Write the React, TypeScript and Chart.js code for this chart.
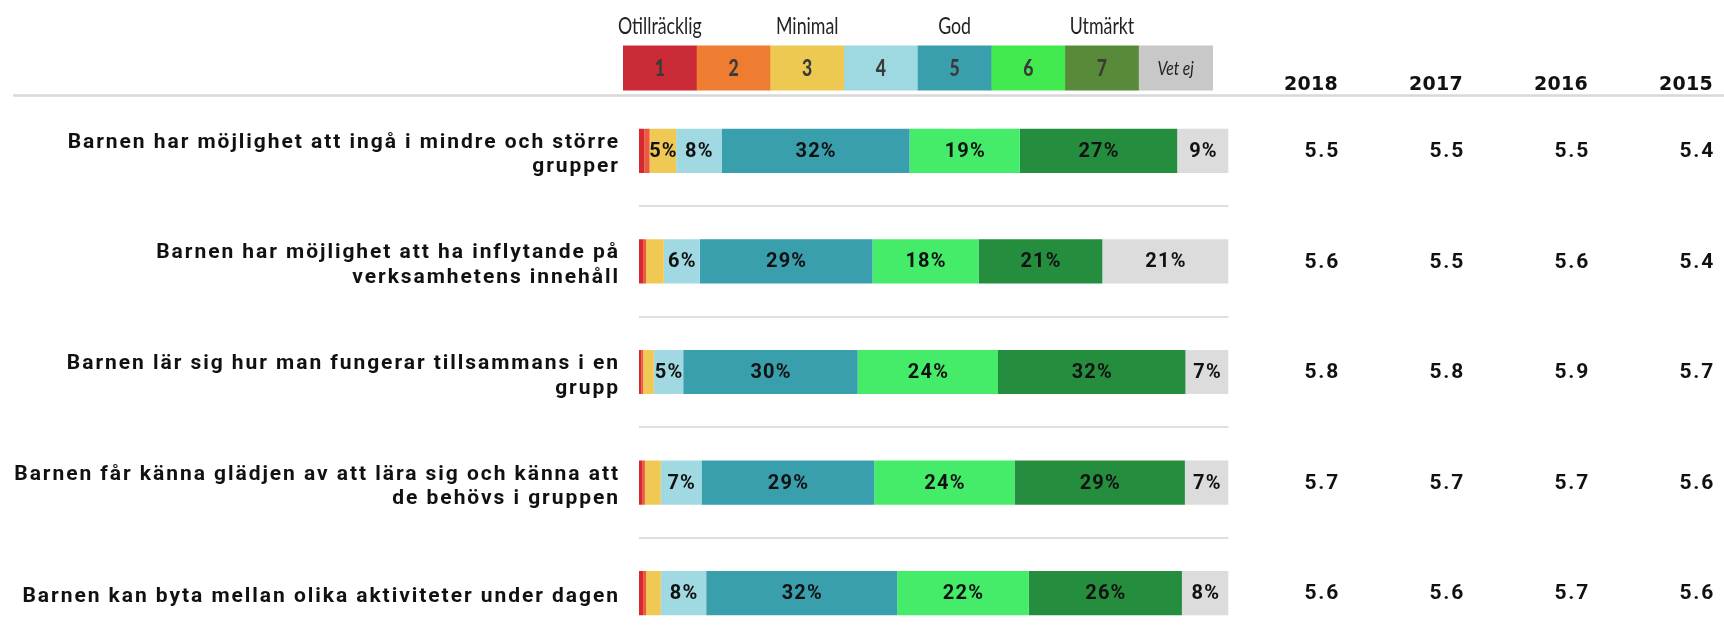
import { useEffect, useRef } from 'react';
import { Chart, registerables } from 'chart.js';

Chart.register(...registerables);

// ---------- DATA ----------
const categories: (string | string[])[] = [
  ['Barnen har möjlighet att ingå i mindre och större', 'grupper'],
  ['Barnen har möjlighet att ha inflytande på', 'verksamhetens innehåll'],
  ['Barnen lär sig hur man fungerar tillsammans i en', 'grupp'],
  ['Barnen får känna glädjen av att lära sig och känna att', 'de behövs i gruppen'],
  'Barnen kan byta mellan olika aktiviteter under dagen',
];

const levelLabels = ['1', '2', '3', '4', '5', '6', '7', 'Vet ej'];
const scaleNames = ['Otillräcklig', '', 'Minimal', '', 'God', '', 'Utmärkt', ''];

// percentage of answers per level, one value per category
const level1 = [0.9, 0.7, 0.4, 0.6, 0.7];
const level2 = [0.9, 0.5, 0.3, 0.4, 0.5];
const level3 = [4.5, 3.0, 1.8, 2.7, 2.5];
const level4 = [7.7, 6.1, 5.0, 6.9, 7.7];
const level5 = [31.9, 29.3, 29.6, 29.3, 32.4];
const level6 = [18.7, 18.0, 23.8, 23.8, 22.3];
const level7 = [26.7, 21.0, 31.8, 28.9, 26.0];
const vetEj = [8.7, 21.4, 7.3, 7.4, 7.9];

const years = ['2018', '2017', '2016', '2015'];
const mean2018 = [5.5, 5.6, 5.8, 5.7, 5.6];
const mean2017 = [5.5, 5.5, 5.8, 5.7, 5.6];
const mean2016 = [5.5, 5.6, 5.9, 5.7, 5.7];
const mean2015 = [5.4, 5.4, 5.7, 5.6, 5.6];

// ---------- STYLE ----------
const barColors = ['#D6282F', '#EC5A3C', '#EFC953', '#A0D9E1', '#3A9FAD', '#44EC6A', '#258E3E', '#DCDCDC'];
const legendColors = ['#CB2A37', '#EE7D31', '#EDC951', '#9ED8E0', '#3A9FAD', '#41EB4F', '#598A3A', '#C8C8C8'];
const MAIN_FONT = 'Roboto, "Noto Sans", sans-serif';
const LEGEND_FONT = 'Lato, "Noto Sans", sans-serif';

const levels = [level1, level2, level3, level4, level5, level6, level7, vetEj];
const meanRows = [mean2018, mean2017, mean2016, mean2015];

function drawScaled(ctx: CanvasRenderingContext2D, text: string, x: number, y: number, sx: number) {
  ctx.save();
  ctx.translate(x, y);
  ctx.scale(sx, 1);
  ctx.fillText(text, 0, 0);
  ctx.restore();
}

const decorPlugin = {
  id: 'decor',
  beforeDraw(chart: any) {
    chart.ctx.letterSpacing = '1.95px';
  },
  afterDatasetsDraw(chart: any) {
    const ctx: CanvasRenderingContext2D = chart.ctx;
    ctx.save();
    ctx.letterSpacing = '1.2px';
    ctx.font = `bold 20px ${MAIN_FONT}`;
    ctx.fillStyle = '#111';
    ctx.textAlign = 'center';
    ctx.textBaseline = 'middle';
    chart.data.datasets.forEach((ds: any, di: number) => {
      const meta = chart.getDatasetMeta(di);
      meta.data.forEach((bar: any, i: number) => {
        const v = ds.data[i];
        if (v >= 4) {
          const cx = (bar.x + bar.base) / 2 + 0.6;
          ctx.fillText(Math.round(v) + '%', cx, bar.y + 1);
        }
      });
    });
    ctx.restore();
  },
  afterDraw(chart: any) {
    const ctx: CanvasRenderingContext2D = chart.ctx;
    const area = chart.chartArea;
    const yScale = chart.scales.y;
    ctx.save();
    ctx.letterSpacing = '0px';

    // header rule
    ctx.strokeStyle = '#D9D9D9';
    ctx.lineWidth = 2.5;
    ctx.beginPath();
    ctx.moveTo(13, area.top);
    ctx.lineTo(chart.width, area.top);
    ctx.stroke();

    // legend boxes
    const boxW = area.width / levelLabels.length;
    const left = area.left - 16;
    const top = area.top - 50;
    const h = 45;
    levelLabels.forEach((lab, i) => {
      const x = left + i * boxW;
      ctx.fillStyle = legendColors[i];
      ctx.fillRect(x, top, boxW + 0.5, h);
      const cx = x + boxW / 2;
      ctx.textAlign = 'center';
      ctx.textBaseline = 'middle';
      if (lab === 'Vet ej') {
        ctx.fillStyle = '#222';
        ctx.font = `italic 19px ${LEGEND_FONT}`;
        drawScaled(ctx, lab, cx, top + h / 2 + 1, 0.82);
      } else {
        ctx.fillStyle = '#3A3A3A';
        ctx.font = `900 22px ${LEGEND_FONT}`;
        drawScaled(ctx, lab, cx, top + h / 2 + 1, 0.8);
      }
      if (scaleNames[i]) {
        ctx.fillStyle = '#222';
        ctx.font = `24px ${LEGEND_FONT}`;
        ctx.textBaseline = 'alphabetic';
        drawScaled(ctx, scaleNames[i], cx, top - 12, 0.74);
      }
    });

    // year columns
    ctx.textAlign = 'right';
    ctx.textBaseline = 'middle';
    years.forEach((yr, j) => {
      const xr = area.right + 109.5 + j * 125;
      ctx.fillStyle = '#111';
      ctx.letterSpacing = '0.3px';
      ctx.font = `bold 19px "DejaVu Sans", sans-serif`;
      ctx.fillText(yr, xr, area.top - 10);
      ctx.letterSpacing = '1.8px';
      ctx.font = `bold 21px ${MAIN_FONT}`;
      meanRows[j].forEach((v, i) => {
        ctx.fillText(v.toFixed(1), xr + 2, yScale.getPixelForValue(i) + 1);
      });
    });
    ctx.restore();
  },
};

export default function App() {
  const ref = useRef<HTMLCanvasElement>(null);
  useEffect(() => {
    const canvas = ref.current!;
    const chart = new Chart(canvas, {
      type: 'bar',
      data: {
        labels: categories as any,
        datasets: levels.map((arr, i) => ({
          label: levelLabels[i],
          data: arr,
          backgroundColor: barColors[i],
          borderWidth: 0,
          categoryPercentage: 1,
          barPercentage: 0.4,
        })),
      },
      options: {
        indexAxis: 'y',
        responsive: false,
        animation: false,
        layout: { padding: { left: 0, right: 495.5, top: 95.5, bottom: 11.5 } },
        scales: {
          x: { stacked: true, min: 0, max: 100, display: false },
          y: {
            stacked: true,
            border: { display: false },
            grid: {
              offset: true,
              drawTicks: false,
              lineWidth: 2,
              color: (c: any) => (c.index === undefined || c.index === 0 ? 'rgba(0,0,0,0)' : '#E0E0E0'),
            },
            ticks: {
              color: '#111',
              padding: 19,
              labelOffset: 4,
              font: { family: MAIN_FONT, size: 21, weight: 'bold', lineHeight: 1.17 },
              autoSkip: false,
            },
            afterFit: (s: any) => {
              s.width = 639;
              s.paddingTop = 0;
              s.paddingBottom = 0;
            },
          },
        },
        plugins: { legend: { display: false }, tooltip: { enabled: false } },
      } as any,
      plugins: [decorPlugin],
    });
    return () => chart.destroy();
  }, []);
  return (
    <div style={{ position: 'fixed', left: 0, top: 0, width: 1724, height: 660, background: '#fff' }}>
      <canvas ref={ref} width={1724} height={660} style={{ display: 'block', width: 1724, height: 660 }} />
    </div>
  );
}
